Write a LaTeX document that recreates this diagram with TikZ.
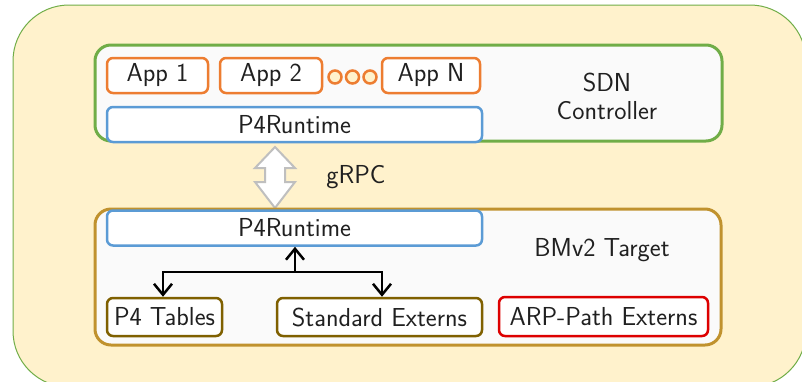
\documentclass[tikz,border=0pt]{standalone}
\usetikzlibrary{arrows.meta}
\definecolor{bgyellow}{HTML}{FFF2CC}
\definecolor{sdngreen}{HTML}{70AD47}
\definecolor{apporange}{HTML}{ED7D31}
\definecolor{rtblue}{HTML}{5B9BD5}
\definecolor{tgtgold}{HTML}{C0922E}
\definecolor{blkbrown}{HTML}{7F6000}
\definecolor{arpred}{HTML}{DD0000}
\definecolor{panel}{HTML}{FAFAFA}
\definecolor{txt}{HTML}{202020}
\tikzset{
  bigtext/.style={text=txt, font=\sffamily\fontsize{26}{28}\selectfont},
  box/.style={draw, fill=white, rounded corners=6, line width=2.5,
    inner sep=0, bigtext},
  appbox/.style={box, draw=apporange, minimum height=35},
  rtbox/.style={box, draw=rtblue, minimum width=375, minimum height=35},
  blkbox/.style={box, draw=blkbrown, minimum height=38},
  panelbox/.style={draw, fill=panel, rounded corners=16, line width=3, inner sep=0},
  label/.style={bigtext, align=center},
  barb/.tip={Straight Barb[length=11pt,width=18pt]},
  conn/.style={line width=2.5, black, arrows={barb-barb}},
}
\begin{document}
\begin{tikzpicture}[x=1pt,y=-1pt]
\useasboundingbox (0,0) rectangle (802,381);
\clip (0,0) rectangle (802,381);
% background panel
\draw[sdngreen, line width=1, fill=bgyellow, rounded corners=56] (13,5) rectangle (806,387);

% SDN controller
\node[panelbox, draw=sdngreen, minimum width=627, minimum height=96] (sdn) at (408.5,93) {};
\node[appbox, minimum width=101] (app1) at (157.5,75.5) {App 1};
\node[appbox, minimum width=102] (app2) at (271,75.5) {App 2};
\node[appbox, minimum width=98] (appn) at (431,75.5) {App N};
\foreach \cx/\nm in {335/d1,352.5/d2,370/d3}
  \node[circle, draw=apporange, fill=bgyellow, line width=2.5, minimum size=13, inner sep=0] (\nm) at (\cx,77) {};
\node[rtbox] (rt1) at (294.5,124.5) {P4Runtime};
\node[label] (sdnlbl) at (607,96) {SDN\\Controller};

% gRPC link
\draw[line width=2, draw=black!25, fill=white, line join=miter]
  (255,168) -- (275,147) -- (295,168) -- (285,168) -- (285,182) -- (295,182)
  -- (275,208) -- (255,182) -- (265,182) -- (265,168) -- cycle;
\node[label] (grpc) at (356,177) {gRPC};

% BMv2 target
\node[panelbox, draw=tgtgold, minimum width=626, minimum height=136] (tgt) at (408,277) {};
\node[rtbox] (rt2) at (294.5,228) {P4Runtime};
\node[label] (tgtlbl) at (602,250) {BMv2 Target};
\node[blkbox, minimum width=115] (tables) at (164.5,317) {P4 Tables};
\node[blkbox, minimum width=205] (std) at (379.5,317) {Standard Externs};
\node[box, draw=arpred, minimum width=209, minimum height=39] (arp) at (603.5,316.5) {ARP-Path Externs};

% internal connections
\coordinate (j) at (295,272);
\draw[conn] (tables.north -| 163,0) |- (j) -| (std.north -| 382,0);
\draw[line width=2.5, -barb] (j) -- (rt2.south -| j);
\end{tikzpicture}
\end{document}
